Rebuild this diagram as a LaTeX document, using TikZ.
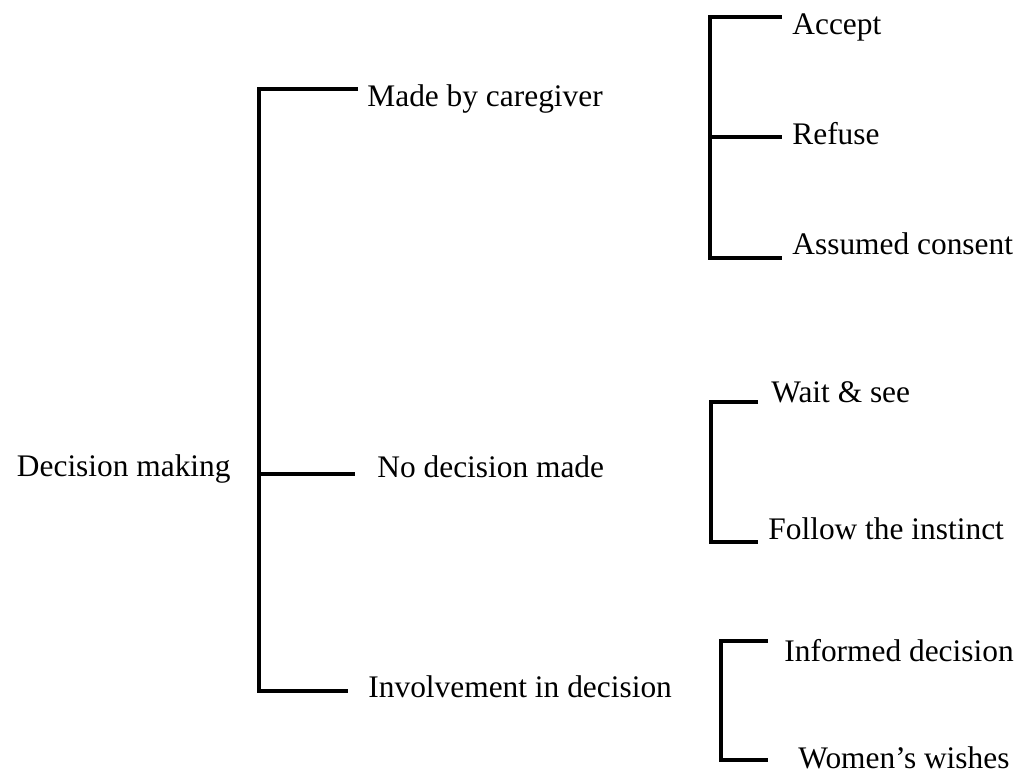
\documentclass[tikz,border=0pt]{standalone}
\usepackage{fontspec}
\setmainfont{Liberation Serif}
\usetikzlibrary{positioning}

\begin{document}
\begin{tikzpicture}[
    x=0.5pt, y=-0.5pt,
    txt/.style={font=\fontsize{15.7}{18}\selectfont, inner sep=0pt, anchor=base west},
    brk/.style={line width=2pt, line join=miter}
]

\useasboundingbox (0,0) rectangle (1019,774);

% Spine positions of the brackets
\def\rootX{259}
\def\caregX{710}
\def\noneX{711}
\def\involX{721}

% Root and first level
\node[txt, anchor=base east] (dm) at (231,477) {Decision making};
\node[txt] (mbc) at (367,107) {Made by caregiver};
\node[txt] (ndm) at (377,478) {No decision made};
\node[txt] (inv) at (368,698) {Involvement in decision};

\coordinate (mbc-end) at (358,89);
\coordinate (ndm-end) at (355,474);
\coordinate (inv-end) at (348,691);
\coordinate (root-mid) at (\rootX,474);

\draw[brk] (mbc-end) -| (root-mid) |- (inv-end);
\draw[brk] (root-mid) -- (ndm-end);

% Made by caregiver
\node[txt] (acc) at (792,35) {Accept};
\node[txt] (ref) at (792,145) {Refuse};
\node[txt] (asc) at (792,255) {Assumed consent};

\coordinate (acc-end) at (782,17);
\coordinate (ref-end) at (782,137);
\coordinate (asc-end) at (782,258);
\coordinate (careg-mid) at (\caregX,137);

\draw[brk] (acc-end) -| (careg-mid) |- (asc-end);
\draw[brk] (careg-mid) -- (ref-end);

% No decision made
\node[txt] (wait) at (771,403) {Wait \& see};
\node[txt] (fol) at (768,540) {Follow the instinct};

\coordinate (wait-end) at (758,402);
\coordinate (fol-end) at (758,542);

\draw[brk] (wait-end) -| (\noneX,542) -- (fol-end);

% Involvement in decision
\node[txt] (inf) at (784,662) {Informed decision};
\node[txt] (wom) at (798,769) {Women’s wishes};

\coordinate (inf-end) at (768,641);
\coordinate (wom-end) at (768,760);

\draw[brk] (inf-end) -| (\involX,760) -- (wom-end);

\end{tikzpicture}
\end{document}
